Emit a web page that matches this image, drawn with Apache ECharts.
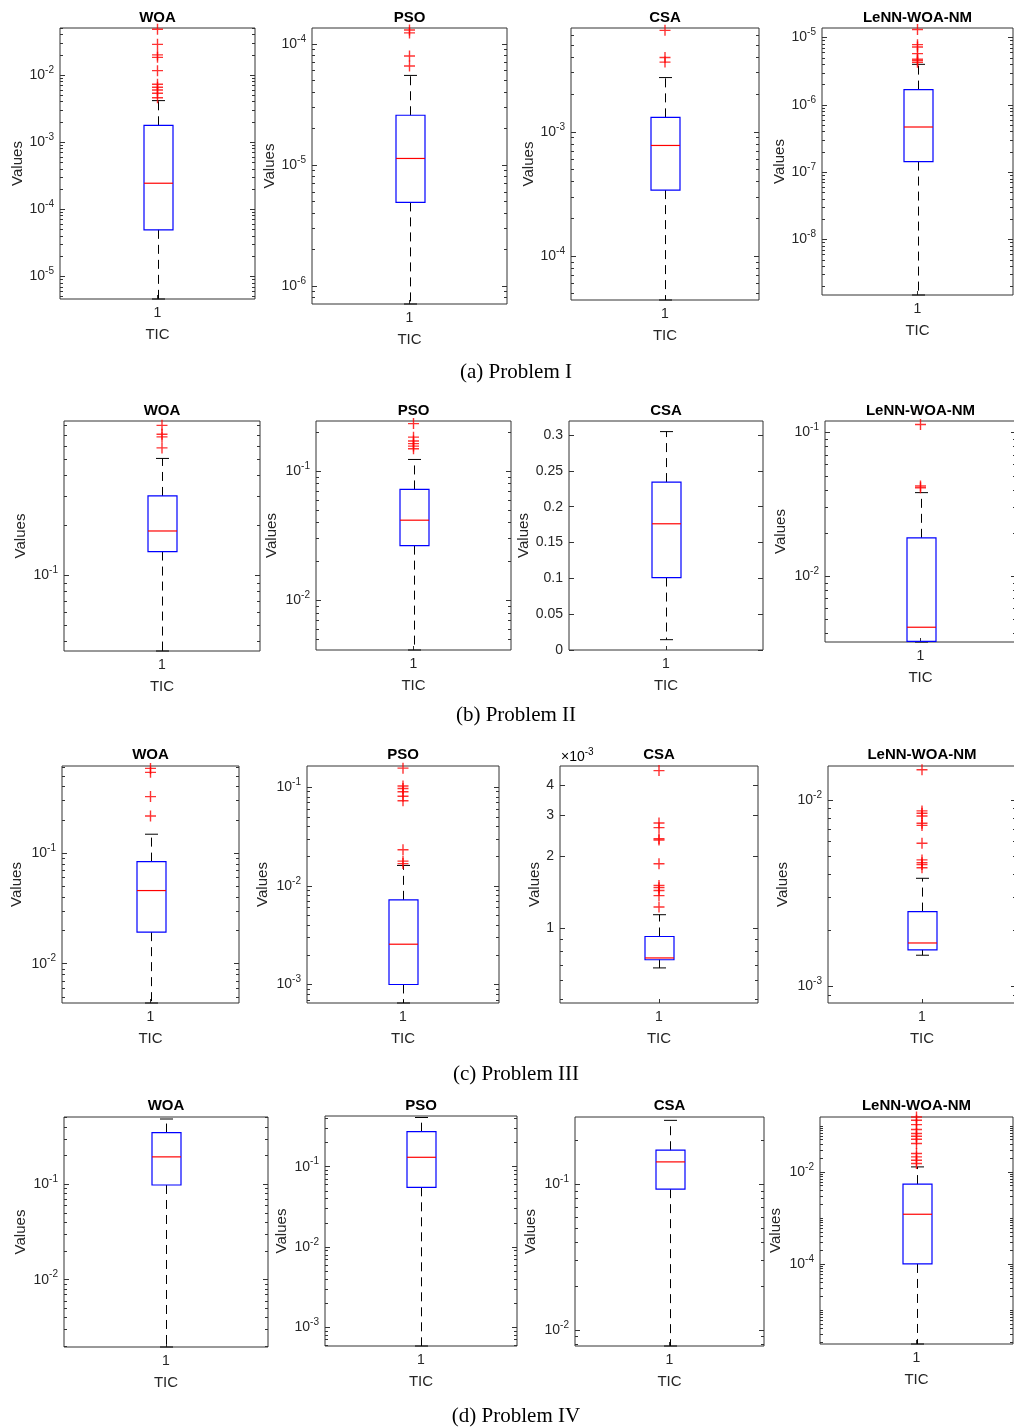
<!DOCTYPE html>
<html>
<head>
<meta charset="utf-8">
<script src="https://cdn.jsdelivr.net/npm/echarts@6/dist/echarts.min.js"></script>
<style>
html,body{margin:0;padding:0;background:#ffffff;}
#chart{width:1014px;height:1428px;}
</style>
</head>
<body>
<div id="chart"></div>
<script>
// ---------------- DATA ----------------
const methods = ['WOA', 'PSO', 'CSA', 'LeNN-WOA-NM'];
const captions = ['(a) Problem I', '(b) Problem II', '(c) Problem III', '(d) Problem IV'];
const xCategories = ['1'];
const xAxisName = 'TIC';
const yAxisName = 'Values';

// box statistics per method: [lower whisker, Q1, median, Q3, upper whisker]
const boxProblemI = [
  [4.6e-6, 4.93e-5, 2.44e-4, 1.78e-3, 4.15e-3],
  [7.1e-7, 4.9e-6, 1.13e-5, 2.57e-5, 5.48e-5],
  [4.43e-5, 3.40e-4, 7.78e-4, 1.31e-3, 2.74e-3],
  [1.5e-9, 1.44e-7, 4.70e-7, 1.69e-6, 4.01e-6]
];
const boxProblemII = [
  [0.0349, 0.139, 0.185, 0.301, 0.507],
  [4.13e-3, 0.0265, 0.0417, 0.0721, 0.123],
  [0.0144, 0.1011, 0.1761, 0.2343, 0.3047],
  [3.48e-3, 3.52e-3, 4.41e-3, 0.0185, 0.0382]
];
const boxProblemIII = [
  [4.41e-3, 0.0193, 0.0459, 0.0839, 0.1485],
  [6.49e-4, 1.0e-3, 2.56e-3, 7.21e-3, 0.0161],
  [6.79e-4, 7.35e-4, 7.48e-4, 9.21e-4, 1.138e-3],
  [1.47e-3, 1.57e-3, 1.71e-3, 2.52e-3, 3.80e-3]
];
const boxProblemIV = [
  [1.97e-3, 0.0984, 0.194, 0.349, 0.484],
  [5.85e-4, 0.0554, 0.131, 0.273, 0.41],
  [7.76e-3, 0.0929, 0.143, 0.172, 0.276],
  [1.83e-6, 1.0e-4, 1.20e-3, 5.42e-3, 0.0128]
];

// outliers per method
const outliersProblemI = [
  [0.0479, 0.0286, 0.0199, 0.0183, 0.0116, 0.00727, 0.00656, 0.00598, 0.00534, 0.00459],
  [1.30e-4, 1.23e-4, 7.92e-5, 6.55e-5],
  [6.58e-3, 3.97e-3, 3.65e-3],
  [1.32e-5, 7.87e-6, 7.25e-6, 5.78e-6, 4.8e-6, 4.6e-6, 4.3e-6]
];
const outliersProblemII = [
  [0.803, 0.709, 0.684, 0.587],
  [0.233, 0.183, 0.171, 0.163, 0.156, 0.149],
  [],
  [0.114, 0.0425, 0.0413]
];
const outliersProblemIII = [
  [0.585, 0.539, 0.325, 0.217],
  [0.156, 0.103, 0.097, 0.090, 0.081, 0.073, 0.0232, 0.0178, 0.0168],
  [4.61e-3, 2.77e-3, 2.65e-3, 2.38e-3, 2.35e-3, 1.865e-3, 1.51e-3, 1.48e-3, 1.44e-3, 1.37e-3, 1.226e-3],
  [0.0145, 8.73e-3, 8.49e-3, 8.2e-3, 7.5e-3, 7.3e-3, 5.86e-3, 4.77e-3, 4.6e-3, 4.5e-3, 4.33e-3]
];
const outliersProblemIV = [
  [],
  [],
  [],
  [0.155, 0.1315, 0.106, 0.0827, 0.0678, 0.0593, 0.0510, 0.0412, 0.0250, 0.0211, 0.0179, 0.0152]
];

// y axis ranges [min, max]
const yRangeProblemI = [[4.6e-6, 0.0501], [7.1e-7, 1.35e-4], [4.43e-5, 6.87e-3], [1.5e-9, 1.39e-5]];
const yRangeProblemII = [[0.0349, 0.853], [4.13e-3, 0.244], [0, 0.3195], [3.48e-3, 0.1205]];
const yRangeProblemIII = [[4.41e-3, 0.615], [6.49e-4, 0.164], [4.83e-4, 4.82e-3], [8.15e-4, 0.0152]];
const yRangeProblemIV = [[1.97e-3, 0.508], [5.85e-4, 0.428], [7.76e-3, 0.291], [1.83e-6, 0.155]];

// y scale types
const yScaleProblemI = ['log', 'log', 'log', 'log'];
const yScaleProblemII = ['log', 'log', 'value', 'log'];
const yScaleProblemIII = ['log', 'log', 'log', 'log'];
const yScaleProblemIV = ['log', 'log', 'log', 'log'];

// tick values and tick labels
const yTicksProblemI = [[1e-5, 1e-4, 1e-3, 1e-2], [1e-6, 1e-5, 1e-4], [1e-4, 1e-3], [1e-8, 1e-7, 1e-6, 1e-5]];
const yTickLabelsProblemI = [['10^-5', '10^-4', '10^-3', '10^-2'], ['10^-6', '10^-5', '10^-4'], ['10^-4', '10^-3'], ['10^-8', '10^-7', '10^-6', '10^-5']];
const yTicksProblemII = [[0.1], [0.01, 0.1], [0, 0.05, 0.1, 0.15, 0.2, 0.25, 0.3], [0.01, 0.1]];
const yTickLabelsProblemII = [['10^-1'], ['10^-2', '10^-1'], ['0', '0.05', '0.1', '0.15', '0.2', '0.25', '0.3'], ['10^-2', '10^-1']];
const yTicksProblemIII = [[0.01, 0.1], [1e-3, 1e-2, 1e-1], [1e-3, 2e-3, 3e-3, 4e-3], [1e-3, 1e-2]];
const yTickLabelsProblemIII = [['10^-2', '10^-1'], ['10^-3', '10^-2', '10^-1'], ['1', '2', '3', '4'], ['10^-3', '10^-2']];
const yTicksProblemIV = [[0.01, 0.1], [1e-3, 1e-2, 1e-1], [0.01, 0.1], [1e-4, 1e-2]];
const yTickLabelsProblemIV = [['10^-2', '10^-1'], ['10^-3', '10^-2', '10^-1'], ['10^-2', '10^-1'], ['10^-4', '10^-2']];
const axisMultiplierProblemIII = ['', '', '\u00d710^-3', ''];

// ---------------- LAYOUT (pixels) ----------------
// [left, top, right, bottom, yNameGap]
const layoutRows = [
  [[60, 28, 255, 299, 35], [312, 28, 507, 304, 34], [571, 28, 759, 300, 35], [822, 28, 1013, 295, 35]],
  [[64, 421, 260, 651, 36], [316, 421, 511, 650, 37], [569, 421, 763, 650, 37], [825, 421, 1016, 642, 37]],
  [[62, 766, 239, 1003, 38], [307, 766, 499, 1003, 37], [560, 766, 758, 1003, 17], [828, 766, 1016, 1003, 38]],
  [[64, 1117, 268, 1347, 36], [325, 1116, 517, 1346, 36], [575, 1117, 764, 1346, 37], [820, 1117, 1013, 1344, 37]]
];
const titleY = [18, 411, 755, 1106];
const captionY = [372, 715, 1074, 1416];

const boxes = [boxProblemI, boxProblemII, boxProblemIII, boxProblemIV];
const outliers = [outliersProblemI, outliersProblemII, outliersProblemIII, outliersProblemIV];
const yRanges = [yRangeProblemI, yRangeProblemII, yRangeProblemIII, yRangeProblemIV];
const yScales = [yScaleProblemI, yScaleProblemII, yScaleProblemIII, yScaleProblemIV];
const yTicks = [yTicksProblemI, yTicksProblemII, yTicksProblemIII, yTicksProblemIV];
const yTickLabels = [yTickLabelsProblemI, yTickLabelsProblemII, yTickLabelsProblemIII, yTickLabelsProblemIV];

const FONT = '"Liberation Sans", Arial, Helvetica, sans-serif';
const SERIF = '"Liberation Serif", "Times New Roman", serif';
const TXT = '#262626';
const AX = '#333333';

function richLabel(s) {
  const m = s.match(/^(.*)\^(.*)$/);
  return m ? '{b|' + m[1] + '}{s|' + m[2] + '}' : '{b|' + s + '}';
}
const labelRich = {
  b: { fontSize: 14, lineHeight: 20, color: TXT, fontFamily: FONT },
  s: { fontSize: 10, lineHeight: 12, color: TXT, fontFamily: FONT, verticalAlign: 'top' }
};

function minorLogTicks(range, major) {
  const out = [];
  const e0 = Math.floor(Math.log10(range[0]));
  const e1 = Math.ceil(Math.log10(range[1]));
  for (let e = e0; e <= e1; e++) {
    for (let k = 1; k <= 9; k++) {
      const v = k * Math.pow(10, e);
      if (v < range[0] || v > range[1]) continue;
      if (major.some(t => Math.abs(t - v) <= Math.abs(t) * 1e-9)) continue;
      out.push(v);
    }
  }
  return out;
}

function renderBox(params, api) {
  const x = api.value(0);
  const pMin = api.coord([x, api.value(1)]);
  const pQ1 = api.coord([x, api.value(2)]);
  const pMed = api.coord([x, api.value(3)]);
  const pQ3 = api.coord([x, api.value(4)]);
  const pMax = api.coord([x, api.value(5)]);
  const cx = Math.round(pMin[0]) + 0.5;
  const hb = 14.5, hc = 6.5;
  const dash = { stroke: '#000000', lineWidth: 1, lineDash: [9, 6], fill: null };
  const solid = { stroke: '#000000', lineWidth: 1, fill: null };
  return {
    type: 'group',
    children: [
      { type: 'line', shape: { x1: cx, y1: pQ3[1], x2: cx, y2: pMax[1] }, style: dash },
      { type: 'line', shape: { x1: cx, y1: pQ1[1], x2: cx, y2: pMin[1] }, style: dash },
      { type: 'line', shape: { x1: cx - hc, y1: pMax[1], x2: cx + hc, y2: pMax[1] }, style: solid },
      { type: 'line', shape: { x1: cx - hc, y1: pMin[1], x2: cx + hc, y2: pMin[1] }, style: solid },
      { type: 'rect', shape: { x: cx - hb, y: pQ3[1], width: 2 * hb, height: pQ1[1] - pQ3[1] }, style: { stroke: '#0000ff', fill: null, lineWidth: 1.2 } },
      { type: 'line', shape: { x1: cx - hb, y1: pMed[1], x2: cx + hb, y2: pMed[1] }, style: { stroke: '#ff0000', lineWidth: 1.2 } }
    ]
  };
}

const grid = [], xAxis = [], yAxis = [], series = [], title = [], graphic = [];

for (let r = 0; r < 4; r++) {
  for (let c = 0; c < 4; c++) {
    const gi = r * 4 + c;
    const [L, T, R, B, nameGap] = layoutRows[r][c];
    grid.push({
      left: L, top: T, width: R - L, height: B - T,
      show: true, borderColor: AX, borderWidth: 1, backgroundColor: 'transparent',
      containLabel: false, outerBoundsMode: 'none'
    });
    xAxis.push({
      gridIndex: gi, type: 'category', data: xCategories, position: 'bottom',
      name: xAxisName, nameLocation: 'middle', nameGap: 28,
      nameTextStyle: { fontSize: 15, color: TXT, fontFamily: FONT },
      axisLine: { show: false },
      axisTick: { show: true, inside: true, alignWithLabel: true, length: 4, lineStyle: { color: AX } },
      axisLabel: { margin: 7, fontSize: 14, color: TXT, fontFamily: FONT },
      splitLine: { show: false }
    });
    const type = yScales[r][c];
    const range = yRanges[r][c];
    const ticks = yTicks[r][c];
    const labels = yTickLabels[r][c];
    const minor = type === 'log' ? minorLogTicks(range, ticks) : [];
    const fmt = function (v) {
      const i = ticks.findIndex(t => Math.abs(t - v) <= Math.abs(t) * 1e-6 + 1e-15);
      return i >= 0 ? richLabel(labels[i]) : '';
    };
    const base = { gridIndex: gi, type: type, min: range[0], max: range[1], splitLine: { show: false }, axisLine: { show: false } };
    if (type === 'log') base.logBase = 10;
    const majorIdx = yAxis.length;
    yAxis.push(Object.assign({}, base, {
      position: 'left',
      name: yAxisName, nameLocation: 'middle', nameGap: nameGap,
      nameTextStyle: { fontSize: 15, color: TXT, fontFamily: FONT },
      axisTick: { show: true, inside: true, length: 5, customValues: ticks, lineStyle: { color: AX } },
      axisLabel: { show: true, margin: 6, customValues: ticks, formatter: fmt, rich: labelRich, color: TXT }
    }));
    yAxis.push(Object.assign({}, base, {
      position: 'right',
      axisTick: { show: true, inside: true, length: 5, customValues: ticks, lineStyle: { color: AX } },
      axisLabel: { show: false }
    }));
    if (minor.length) {
      yAxis.push(Object.assign({}, base, {
        position: 'left',
        axisTick: { show: true, inside: true, length: 3, customValues: minor, lineStyle: { color: AX } },
        axisLabel: { show: false }
      }));
      yAxis.push(Object.assign({}, base, {
        position: 'right',
        axisTick: { show: true, inside: true, length: 3, customValues: minor, lineStyle: { color: AX } },
        axisLabel: { show: false }
      }));
    }
    const b = boxes[r][c];
    series.push({
      type: 'custom', xAxisIndex: gi, yAxisIndex: majorIdx,
      renderItem: renderBox,
      encode: { x: 0, y: [1, 2, 3, 4, 5] },
      data: [[0, b[0], b[1], b[2], b[3], b[4]]],
      z: 3, silent: true
    });
    const outs = outliers[r][c];
    if (outs.length) {
      series.push({
        type: 'scatter', xAxisIndex: gi, yAxisIndex: majorIdx,
        symbol: 'path://M0,5L10,5M5,0L5,10', symbolSize: 11, clip: false,
        itemStyle: { color: 'rgba(0,0,0,0)', borderColor: '#ff0000', borderWidth: 1.4 },
        data: outs.map(v => [0, v]), z: 4, silent: true
      });
    }
    title.push({
      text: methods[c], left: (L + R) / 2, top: titleY[r], padding: 0,
      textAlign: 'center', textVerticalAlign: 'middle',
      textStyle: { fontSize: 15, fontWeight: 'bold', color: '#000000', fontFamily: FONT }
    });
    if (r === 2 && axisMultiplierProblemIII[c]) {
      graphic.push({
        type: 'text', x: L + 1, y: 757,
        style: { text: richLabel(axisMultiplierProblemIII[c]), rich: labelRich, align: 'left', verticalAlign: 'middle' }
      });
    }
  }
  title.push({
    text: captions[r], left: 516, top: captionY[r], padding: 0,
    textAlign: 'center', textVerticalAlign: 'middle',
    textStyle: { fontSize: 21, fontWeight: 'normal', color: '#000000', fontFamily: SERIF }
  });
}

const chart = echarts.init(document.getElementById('chart'), null, { renderer: 'canvas', width: 1014, height: 1428 });
chart.setOption({
  animation: false,
  backgroundColor: '#ffffff',
  textStyle: { fontFamily: FONT },
  title: title,
  grid: grid,
  xAxis: xAxis,
  yAxis: yAxis,
  series: series,
  graphic: graphic
});
</script>
</body>
</html>
